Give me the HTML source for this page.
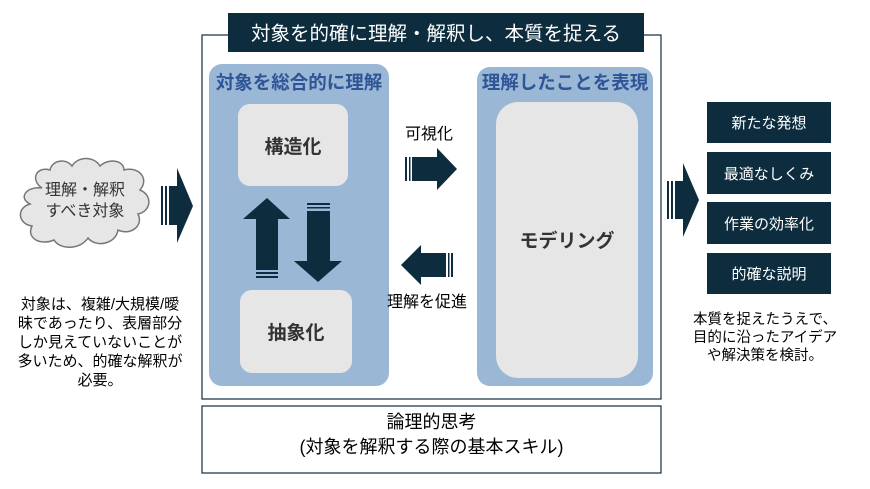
<!DOCTYPE html>
<html><head><meta charset="utf-8"><style>
body{margin:0;background:#fff;width:870px;height:489px;overflow:hidden;font-family:"Liberation Sans","Noto Sans CJK JP",sans-serif}
.a{position:absolute;white-space:nowrap}
</style></head><body>
<svg width="870" height="489" style="position:absolute;left:0;top:0">
<rect x="202" y="35" width="459" height="364" fill="none" stroke="#0d2d3f" stroke-width="1.2"/>
<rect x="202" y="406" width="459" height="67" fill="none" stroke="#0d2d3f" stroke-width="1.2"/>
<rect x="228" y="13" width="416" height="39" fill="#0d2d3f"/>
<rect x="209" y="64" width="180" height="322" rx="13" fill="#9ab8d6"/>
<rect x="477" y="67" width="176" height="319" rx="13" fill="#9ab8d6"/>
<rect x="238" y="104" width="110" height="82" rx="12" fill="#e6e6e6"/>
<rect x="240" y="290" width="112" height="83" rx="12" fill="#e6e6e6"/>
<rect x="496" y="102" width="142" height="276" rx="22" fill="#e6e6e6"/>
<g fill="#0d2d3f">
<path d="M412 157H437V148L457 169L437 190V181H412Z"/>
<rect x="405" y="157" width="2" height="24"/><rect x="409" y="157" width="1.5" height="24"/>
<path d="M446 253H421V245L401 265L421 285V277H446Z"/>
<rect x="451" y="253" width="2" height="24"/><rect x="448" y="253" width="1.5" height="24"/>
<path d="M256 270V219H243L267 198L290 219H278V270Z"/>
<rect x="256" y="272" width="22" height="2"/><rect x="256" y="276" width="22" height="2"/>
<path d="M307 211V261H294L318 282L342 261H330V211Z"/>
<rect x="307" y="203" width="23" height="2"/><rect x="307" y="207" width="23" height="1.5"/>
<path d="M169 186H177V168L193 206L177 243V225H169Z"/>
<rect x="161" y="186" width="2" height="39"/><rect x="165" y="186" width="2" height="39"/>
<path d="M675 181H683V163L699 200L683 237V219H675Z"/>
<rect x="667" y="181" width="2" height="38"/><rect x="671" y="181" width="2" height="38"/>
<rect x="707" y="102" width="124" height="41"/>
<rect x="707" y="152" width="124" height="42"/>
<rect x="707" y="202" width="124" height="42"/>
<rect x="707" y="253" width="124" height="41"/>
</g>
<path d="M42 188C30 180 36 166 50 170C52 160 66 158 72 166C78 156 94 156 100 166C108 158 124 160 124 170C138 166 150 178 140 190C154 196 150 212 138 214C144 226 130 236 118 230C116 244 96 248 88 238C80 250 60 250 54 240C40 246 26 238 32 226C18 224 16 208 30 204C18 198 26 186 42 188Z" fill="#e6e6e6" stroke="#777" stroke-width="1.5"/>
</svg>
<div class="a" style="left:228px;top:17px;width:416px;text-align:center;color:#fff;font-size:19.5px">対象を的確に理解・解釈し、本質を捉える</div>
<div class="a" style="left:209px;top:69px;width:180px;text-align:center;color:#2f5597;font-size:18.5px;font-weight:bold">対象を総合的に理解</div>
<div class="a" style="left:477px;top:69px;width:176px;text-align:center;color:#2f5597;font-size:18.5px;font-weight:bold">理解したことを表現</div>
<div class="a" style="left:238px;top:132px;width:110px;text-align:center;color:#333;font-size:19px;font-weight:bold">構造化</div>
<div class="a" style="left:240px;top:318px;width:112px;text-align:center;color:#333;font-size:19px;font-weight:bold">抽象化</div>
<div class="a" style="left:496px;top:226px;width:142px;text-align:center;color:#333;font-size:19px;font-weight:bold">モデリング</div>
<div class="a" style="left:396px;top:120px;width:66px;text-align:center;font-size:16px">可視化</div>
<div class="a" style="left:384px;top:288px;width:86px;text-align:center;font-size:16px">理解を促進</div>
<div class="a" style="left:25px;top:180px;width:120px;text-align:center;font-size:16px;line-height:21px;color:#333">理解・解釈<br>すべき対象</div>
<div class="a" style="left:0px;top:295px;width:200px;text-align:center;font-size:15px;line-height:19px">対象は、複雑/大規模/曖<br>昧であったり、表層部分<br>しか見えていないことが<br>多いため、的確な解釈が<br>必要。</div>
<div class="a" style="left:707px;top:112px;width:124px;text-align:center;color:#fff;font-size:15px">新たな発想</div>
<div class="a" style="left:707px;top:163px;width:124px;text-align:center;color:#fff;font-size:15px">最適なしくみ</div>
<div class="a" style="left:707px;top:213px;width:124px;text-align:center;color:#fff;font-size:15px">作業の効率化</div>
<div class="a" style="left:707px;top:263px;width:124px;text-align:center;color:#fff;font-size:15px">的確な説明</div>
<div class="a" style="left:665px;top:311px;width:200px;text-align:center;font-size:14.5px;line-height:18px">本質を捉えたうえで、<br>目的に沿ったアイデア<br>や解決策を検討。</div>
<div class="a" style="left:202px;top:410px;width:459px;text-align:center;font-size:18px;line-height:25px">論理的思考<br>(対象を解釈する際の基本スキル)</div>
</body></html>
